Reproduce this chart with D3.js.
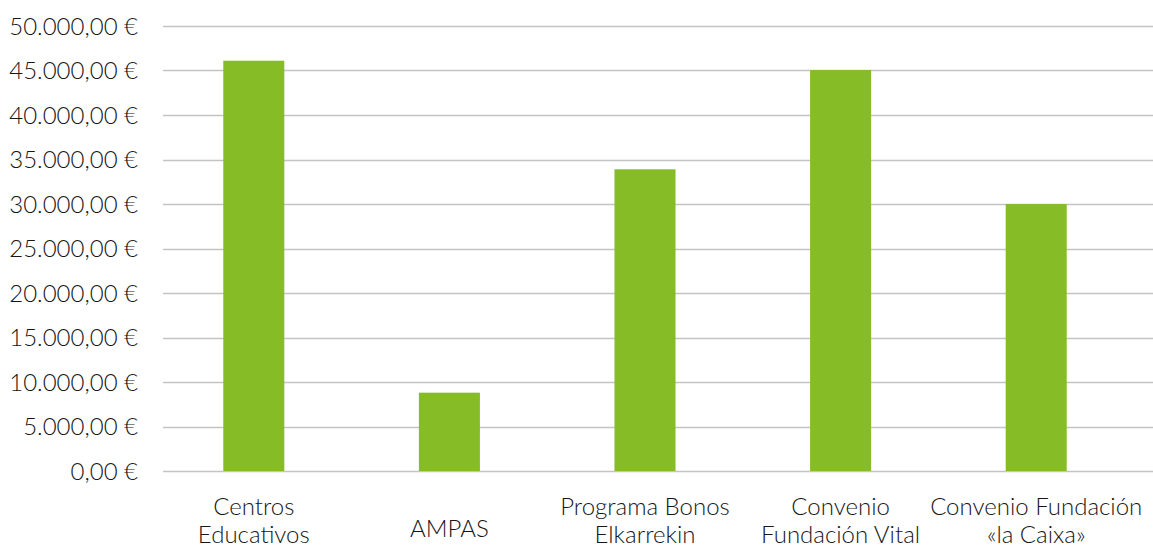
<!DOCTYPE html>
<html>
<head>
<meta charset="utf-8">
<script src="https://cdn.jsdelivr.net/npm/d3@7"></script>
<style>
  html, body { margin: 0; padding: 0; background: #fff; }
  .axis text { font-family: Lato, sans-serif; font-weight: 300; fill: #161616; }
</style>
</head>
<body>
<div class="chart"></div>
<script>
// values
const categories = ['Centros Educativos', 'AMPAS', 'Programa Bonos Elkarrekin', 'Convenio Fundación Vital', 'Convenio Fundación «la Caixa»']
const labelLines = [['Centros', 'Educativos'], ['AMPAS'], ['Programa Bonos', 'Elkarrekin'], ['Convenio', 'Fundación Vital'], ['Convenio Fundación', '«la Caixa»']]
const amounts = [46100, 8800, 33900, 45050, 30000]
const yTicks = [0, 5000, 10000, 15000, 20000, 25000, 30000, 35000, 40000, 45000, 50000]

const width = 1153
const height = 548

const locale = d3.formatLocale({decimal: ',', thousands: '.', grouping: [3], currency: ['', ' €']})
const euro = locale.format('$,.2f')

const x = d3.scaleBand()
.domain(categories)
.range([156, 1134])
.paddingInner(0.688)
.paddingOuter(0.344)

const y = d3.scaleLinear()
.domain([0, 50000])
.range([471, 26])

const svg = d3.select('.chart')
.append('svg')
.attr('width', width)
.attr('height', height)

// gridlines
svg.append('g')
.selectAll('line')
.data(yTicks)
.enter()
.append('line')
.attr('x1', 163)
.attr('x2', width)
.attr('y1', d => Math.round(y(d)) + 0.5)
.attr('y2', d => Math.round(y(d)) + 0.5)
.style('stroke', '#c4c4c4')
.style('stroke-width', 1.3)

// y labels
const yaxis = svg.append('g')
.attr('class', 'y axis')
.attr('transform', 'translate(138,0)')
.call(d3.axisLeft(y).tickValues(yTicks).tickFormat(euro).tickSize(0).tickPadding(0))

yaxis.select('.domain').remove()
yaxis.selectAll('text')
.style('font-size', '24px')
.attr('dy', '0.35em')

// bars
svg.append('g')
.selectAll('rect')
.data(amounts)
.enter()
.append('rect')
.attr('x', (d, i) => x(categories[i]))
.attr('width', x.bandwidth())
.attr('y', d => y(d))
.attr('height', d => y(0) - y(d))
.style('fill', '#86bc25')

// category labels
const xlab = svg.append('g')
.attr('class', 'x axis')
.selectAll('text')
.data(categories)
.enter()
.append('text')
.attr('x', d => x(d) + x.bandwidth() / 2)
.attr('y', (d, i) => labelLines[i].length > 1 ? 515 : 537)
.attr('text-anchor', 'middle')
.style('font-size', '24px')

xlab.selectAll('tspan')
.data((d, i) => labelLines[i])
.enter()
.append('tspan')
.attr('x', function() { return this.parentNode.getAttribute('x') })
.attr('dy', (d, j) => j === 0 ? 0 : 28)
.text(d => d)
</script>
</body>
</html>
